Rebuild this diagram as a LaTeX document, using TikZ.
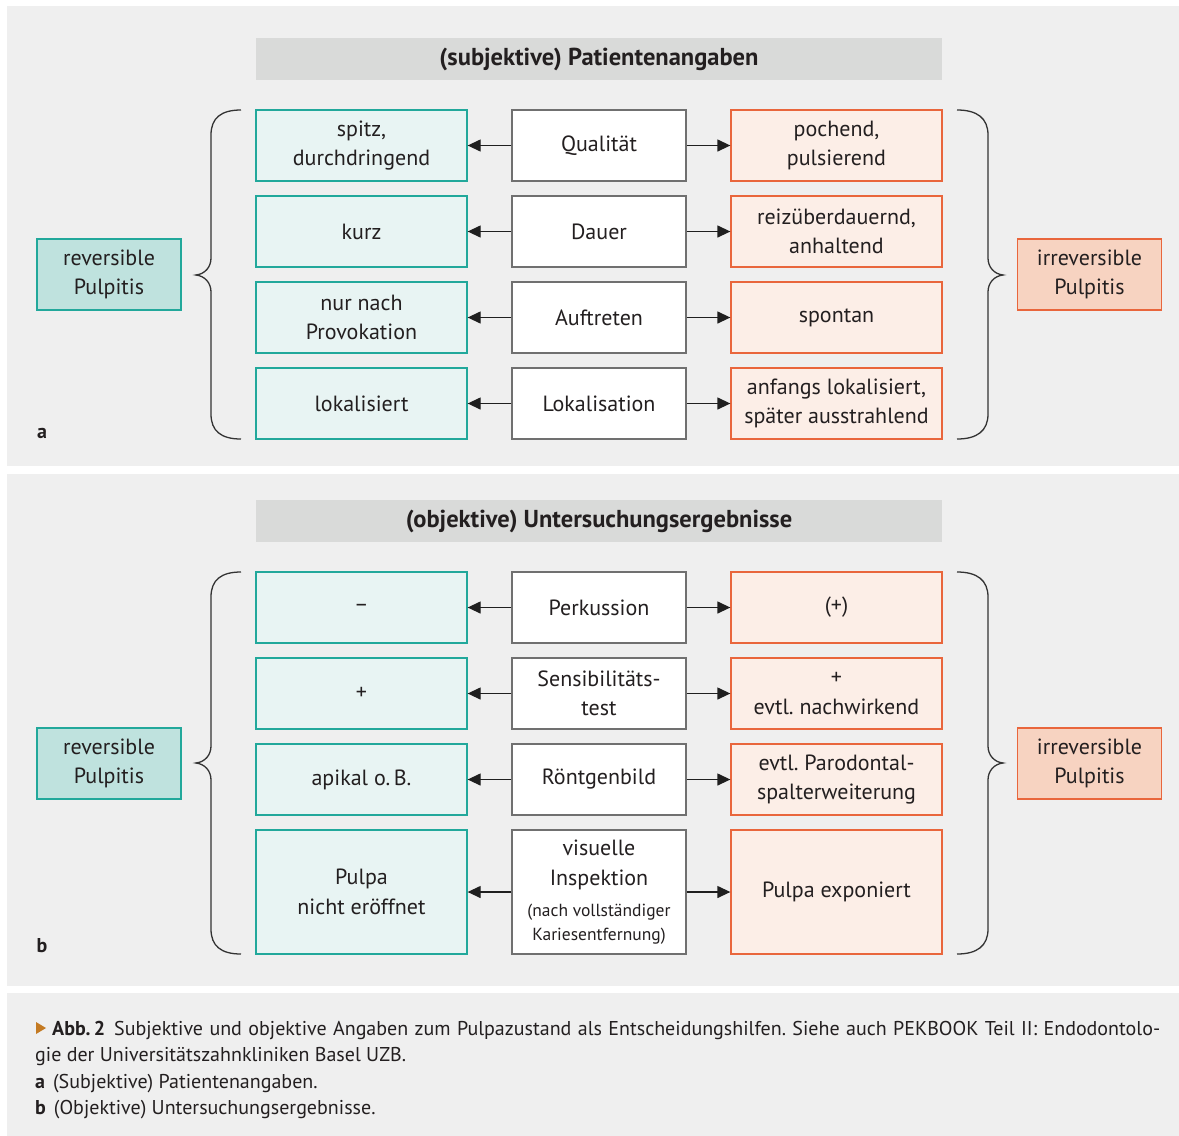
\documentclass[tikz,border=0pt]{standalone}
\usepackage{fontspec}
\setmainfont{PT Sans}
\usetikzlibrary{arrows.meta}
\frenchspacing
\definecolor{panelbg}{HTML}{EFEFEF}
\definecolor{titlebg}{HTML}{D9DAD9}
\definecolor{tealc}{HTML}{22A89B}
\definecolor{teallight}{HTML}{E8F4F3}
\definecolor{tealmid}{HTML}{BFE2DE}
\definecolor{orng}{HTML}{E9663C}
\definecolor{orlight}{HTML}{FCEEE7}
\definecolor{ormid}{HTML}{F7D3C1}
\definecolor{midgray}{HTML}{707070}
\definecolor{txt}{HTML}{231F20}
\definecolor{capbrown}{HTML}{C47A22}
\newcommand\bracL[3]{%
 \draw[bracestyle] (241,#1) .. controls (221,#1) and (211,#1+8) .. (211,#1+25) -- (211,#2-17)
  .. controls (211,#2-8) and (205,#2-1) .. (196,#2) .. controls (205,#2+1) and (211,#2+8) .. (211,#2+17)
  -- (211,#3-25) .. controls (211,#3-8) and (221,#3) .. (241,#3);}
\newcommand\bracR[3]{%
 \draw[bracestyle] (957,#1) .. controls (977,#1) and (988,#1+8) .. (988,#1+25) -- (988,#2-17)
  .. controls (988,#2-8) and (994,#2-1) .. (1003,#2) .. controls (994,#2+1) and (988,#2+8) .. (988,#2+17)
  -- (988,#3-25) .. controls (988,#3-8) and (977,#3) .. (957,#3);}
\begin{document}
\frenchspacing
\begin{tikzpicture}[x=1pt,y=-1pt,
  box/.style={minimum width=211pt, minimum height=71pt, inner sep=0pt, align=center,
    font=\fontsize{22}{29.5}\selectfont, text=txt, line width=1.3pt},
  lbox/.style={box, draw=tealc, fill=teallight},
  rbox/.style={box, draw=orng, fill=orlight},
  mbox/.style={box, draw=midgray, fill=white, minimum width=174pt},
  revbox/.style={box, minimum width=144pt, draw=tealc, fill=tealmid},
  irrbox/.style={box, minimum width=144pt, draw=orng, fill=ormid},
  titlebar/.style={fill=titlebg, minimum width=686pt, minimum height=42pt, inner sep=0pt,
    font=\fontsize{24.5}{28}\selectfont\bfseries, text=txt},
  arr/.style={-{Triangle[length=13pt,width=12pt]}, line width=1.3pt, draw=black!88},
  bracestyle/.style={line width=1.3pt, draw=black!80},
  panellabel/.style={font=\fontsize{20}{24}\selectfont\bfseries, text=txt},
  captext/.style={font=\fontsize{20}{26}\selectfont, text=txt, inner sep=0pt, anchor=base west}
]
\useasboundingbox (0,0) rectangle (1179,1136);
\fill[white] (0,0) rectangle (1179,1136);
\fill[panelbg] (7,6) rectangle (1179,466);
\fill[panelbg] (7,474) rectangle (1179,986);
\fill[panelbg] (7,993) rectangle (1179,1136);

% ---------- panel a ----------
\node[titlebar] (ta) at (599,59) {(subjektive) Patientenangaben};

\node[mbox] (am1) at (599,145.5) {Qualität};
\node[mbox] (am2) at (599,231.5) {Dauer};
\node[mbox] (am3) at (599,317.5) {Auftreten};
\node[mbox] (am4) at (599,403.5) {Lokalisation};

\node[lbox] (al1) at (361.5,145.5) {spitz,\\durchdringend};
\node[lbox] (al2) at (361.5,231.5) {kurz};
\node[lbox] (al3) at (361.5,317.5) {nur nach\\Provokation};
\node[lbox] (al4) at (361.5,403.5) {lokalisiert};

\node[rbox] (ar1) at (836.5,145.5) {pochend,\\pulsierend};
\node[rbox] (ar2) at (836.5,231.5) {reizüberdauernd,\\anhaltend};
\node[rbox] (ar3) at (836.5,317.5) {spontan};
\node[rbox] (ar4) at (836.5,403.5) {anfangs lokalisiert,\\später ausstrahlend};

\foreach \i in {1,...,4}{
  \draw[arr] (am\i) -- (al\i);
  \draw[arr] (am\i) -- (ar\i);
}

\node[revbox] (arev) at (109,274.5) {reversible\\Pulpitis};
\node[irrbox] (airr) at (1089.5,274.5) {irreversible\\Pulpitis};
\bracL{110}{275}{439}
\bracR{110}{275}{439}
\node[panellabel] (la) at (42,433) {a};

% ---------- panel b ----------
\node[titlebar] (tb) at (599,521) {(objektive) Untersuchungsergebnisse};

\node[mbox] (bm1) at (599,607.5) {Perkussion};
\node[mbox] (bm2) at (599,693.5) {Sensibilitäts-\\test};
\node[mbox] (bm3) at (599,779.5) {Röntgenbild};
\node[mbox, minimum height=124pt] (bm4) at (599,892)
  {\begin{tabular}{@{}c@{}}visuelle\\Inspektion\\[1.5pt]{\fontsize{17.5}{24}\selectfont(nach vollständiger}\\[-5.5pt]{\fontsize{17.5}{24}\selectfont Kariesentfernung)}\end{tabular}};

\node[lbox] (bl1) at (361.5,607.5) {–};
\node[lbox] (bl2) at (361.5,693.5) {+};
\node[lbox] (bl3) at (361.5,779.5) {apikal o.\,B.};
\node[lbox, minimum height=124pt] (bl4) at (361.5,892) {Pulpa\\nicht eröffnet};

\node[rbox] (br1) at (836.5,607.5) {(+)};
\node[rbox] (br2) at (836.5,693.5) {+\\evtl.\ nachwirkend};
\node[rbox] (br3) at (836.5,779.5) {evtl.\ Parodontal-\\spalterweiterung};
\node[rbox, minimum height=124pt] (br4) at (836.5,892) {Pulpa exponiert};

\foreach \i in {1,...,4}{
  \draw[arr] (bm\i) -- (bl\i);
  \draw[arr] (bm\i) -- (br\i);
}

\node[revbox] (brev) at (109,763.5) {reversible\\Pulpitis};
\node[irrbox] (birr) at (1089.5,763.5) {irreversible\\Pulpitis};
\bracL{572}{763}{954}
\bracR{572}{763}{954}
\node[panellabel] (lb) at (42,946) {b};

% ---------- caption ----------
\fill[capbrown] (36,1022) -- (46,1028) -- (36,1034) -- cycle;
\node[captext] (c1) at (52,1035) {\makebox[1108pt][s]{\textbf{Abb.\,2}\hspace{9pt}Subjektive und objektive Angaben zum Pulpazustand als Entscheidungshilfen.\ Siehe auch PEKBOOK Teil II: Endodontolo-}};
\node[captext] (c2) at (35,1061) {gie der Universitätszahnkliniken Basel UZB.};
\node[captext] (c3) at (35,1088) {\textbf{a}\hspace{8pt}(Subjektive) Patientenangaben.};
\node[captext] (c4) at (35,1114) {\textbf{b}\hspace{8pt}(Objektive) Untersuchungsergebnisse.};
\end{tikzpicture}
\end{document}
